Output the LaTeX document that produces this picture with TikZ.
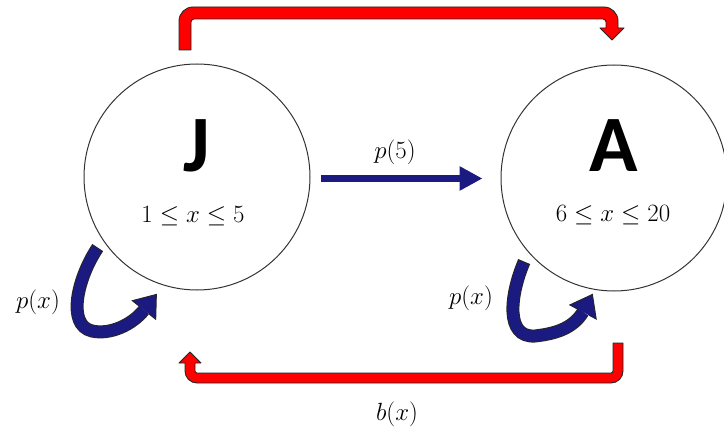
\documentclass[tikz,border=0pt]{standalone}
\usepackage{fontspec}
\newfontfamily\carlito{Carlito}
\usetikzlibrary{arrows.meta,calc}
\definecolor{navyb}{RGB}{26,26,128}
\definecolor{redf}{RGB}{255,0,0}
\begin{document}
\begin{tikzpicture}[x=1pt,y=-1pt,
  statecirc/.style={circle, draw=black!80, line width=1pt, minimum size=226pt, inner sep=0pt},
  bigletter/.style={font=\carlito\bfseries\fontsize{80}{80}\selectfont, inner sep=0pt},
  rangetext/.style={font=\fontsize{24}{28}\selectfont, inner sep=0pt},
  lbl/.style={font=\fontsize{23}{26}\selectfont, inner sep=0pt},
  redband/.style={fill=redf, draw=black!85, line width=0.9pt, line join=round},
  loopout/.style={draw=black!85, line width=13pt},
  loopin/.style={draw=navyb, line width=11pt},
  loophead/.style={fill=navyb, draw=black!85, line width=0.9pt, line join=miter},
  straight/.style={navyb, line width=7pt, -{Triangle[length=23pt,width=23pt]}}]
\useasboundingbox (0,0) rectangle (724,436);

% states
\node[statecirc] (J) at (197,177) {};
\node[statecirc] (A) at (614,178) {};
\node[bigletter] (Jl) at (197,146) {J};
\node[bigletter] (Al) at (614,146) {A};
\node[rangetext] (Jr) at (193,216) {$1 \le x \le 5$};
\node[rangetext] (Ar) at (613,215) {$6 \le x \le 20$};

% straight arrow J -> A
\draw[straight] ($(J.east)+(10,1.5)$) -- ($(J.east -| A.west)+(-18,1.5)$);
\node[lbl] (p5) at (395,152) {$p(5)$};

% top red arrow J -> A
\draw[redband] (191,50) -- (179,50) -- (179,21) arc(180:270:14) -- (604,7)
  arc(270:360:14) -- (618,28) -- (624,28) -- (612,40) -- (600,28) -- (606,28)
  -- (606,22) arc(0:-90:3) -- (194,19) arc(270:180:3) -- cycle;

% bottom red arrow A -> J
\draw[redband] (613,343) -- (623,343) -- (623,371) arc(0:90:12) -- (197,383)
  arc(90:180:12) -- (185,363) -- (179,363) -- (190,352) -- (201,363) -- (195,363)
  -- (195,371) arc(180:90:2) -- (611,373) arc(90:0:2) -- cycle;
\node[lbl] (bx) at (397,414) {$b(x)$};

% left self loop
\coordinate (LB) at (144,310);
\coordinate (LT) at ($(LB)+(12.4,-15.6)$);
\def\loopL{(97.5,248) .. controls (78,277) and (66,325) .. (92,331) .. controls (110,335) and (132,325) .. (LB)}
\draw[loopout] \loopL;
\draw[loopin] \loopL;
\filldraw[loophead] ($(LB)!6.5pt!90:(LT)$) -- ($(LB)!15pt!90:(LT)$) -- (LT)
  -- ($(LB)!15pt!-90:(LT)$) -- ($(LB)!6.5pt!-90:(LT)$);
\draw[black!85, line width=0.9pt] ($(97.5,248)!6.5pt!90:(78,277)$) -- ($(97.5,248)!6.5pt!-90:(78,277)$);
\node[lbl] (pxl) at (38,302) {$p(x)$};

% right self loop
\coordinate (RB) at (583,312);
\coordinate (RT) at ($(RB)+(9.4,-17.6)$);
\def\loopR{(524,262) .. controls (510,295) and (505,338) .. (535,336) .. controls (552,334) and (572,330) .. (RB)}
\draw[loopout] \loopR;
\draw[loopin] \loopR;
\filldraw[loophead] ($(RB)!6.5pt!90:(RT)$) -- ($(RB)!15pt!90:(RT)$) -- (RT)
  -- ($(RB)!15pt!-90:(RT)$) -- ($(RB)!6.5pt!-90:(RT)$);
\draw[black!85, line width=0.9pt] ($(524,262)!6.5pt!90:(510,295)$) -- ($(524,262)!6.5pt!-90:(510,295)$);
\node[lbl] (pxr) at (471,298) {$p(x)$};
\end{tikzpicture}
\end{document}
